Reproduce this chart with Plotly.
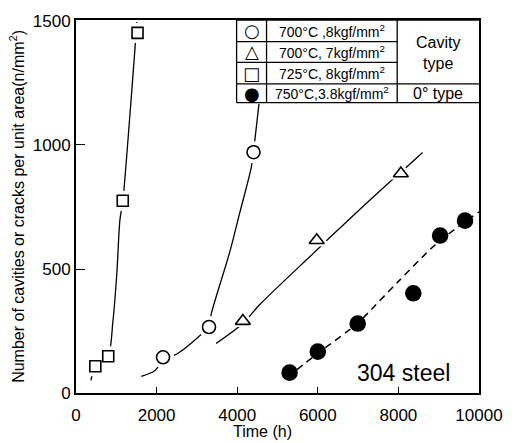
import plotly.graph_objects as go

# ---- data ----
sq_t = [480, 800, 1160, 1527]          # 725C, 8 kgf/mm2
sq_n = [108, 148, 775, 1452]
oc_t = [2160, 3300, 4405]              # 700C, 8 kgf/mm2
oc_n = [144, 266, 971]
tr_t = [4141, 5973, 8061]              # 700C, 7 kgf/mm2
tr_n = [290, 616, 885]
fc_t = [5300, 6000, 6990, 8370, 9035, 9653]   # 750C, 3.8 kgf/mm2
fc_n = [82, 167, 280, 402, 635, 695]

# fitted (hand-drawn) curves
sq_fit_t = [371, 470, 792, 916, 1015, 1089, 1163, 1337, 1485, 1510]
sq_fit_n = [51, 103, 146, 289, 487, 697, 776, 1120, 1436, 1496]
oc_fit_t = [1620, 1955, 2160, 2530, 3030, 3300, 3360, 3811, 4059, 4348, 4405, 4540]
oc_fit_n = [67, 90, 130, 160, 225, 268, 322, 566, 724, 909, 975, 1166]
tr_fit_t = [3480, 4140, 4550, 5900, 6370, 7730, 8060, 8600]
tr_fit_n = [200, 280, 355, 565, 638, 843, 890, 970]
fc_fit_t = [5250, 6000, 7000, 7200, 8000, 8930, 9650, 10000]
fc_fit_n = [64, 160, 282, 315, 450, 600, 690, 730]

x_ticks = [0, 2000, 4000, 6000, 8000, 10000]
y_ticks = [0, 500, 1000, 1500]

FONT = "Liberation Sans"
BLK = "black"

fig = go.Figure()

def curve(x, y, dash="solid", width=1.3):
    fig.add_trace(go.Scatter(x=x, y=y, mode="lines", line=dict(color=BLK, width=width, dash=dash, shape="spline", smoothing=0.8),
                             showlegend=False, hoverinfo="skip"))

curve(sq_fit_t, sq_fit_n)
curve(oc_fit_t, oc_fit_n)
curve(tr_fit_t, tr_fit_n)
curve(fc_fit_t, fc_fit_n, dash="7px,5px", width=1.5)

def halo(x, y, sym, size):
    fig.add_trace(go.Scatter(x=x, y=y, mode="markers", marker=dict(symbol=sym, size=size, color="white", line=dict(width=0)),
                             showlegend=False, hoverinfo="skip"))

halo(sq_t, sq_n, "square", 20)
halo(oc_t, oc_n, "circle", 22)
halo(tr_t, tr_n, "triangle-up", 24)

def pts(x, y, sym, size, fill="white"):
    fig.add_trace(go.Scatter(x=x, y=y, mode="markers", marker=dict(symbol=sym, size=size, color=fill, line=dict(color=BLK, width=1.6)),
                             showlegend=False, hoverinfo="skip"))

pts(sq_t, sq_n, "square", 11)
pts(oc_t, oc_n, "circle", 13)
pts(tr_t, tr_n, "triangle-up", 13)
pts(fc_t, fc_n, "circle", 15, fill=BLK)

# ---- legend table (paper coordinates) ----
X0, X1, X2, X3 = 0.3985, 0.4728, 0.797, 1.0
Y0, Y1, Y2, Y3, Y4 = 1.0, 0.942, 0.8865, 0.8285, 0.7784
lines = [
    (X0, Y0, X3, Y0), (X0, Y1, X2, Y1), (X0, Y2, X2, Y2), (X0, Y3, X3, Y3), (X0, Y4, X3, Y4),
    (X0, Y0, X0, Y4), (X1, Y0, X1, Y4), (X2, Y0, X2, Y4),
]
shapes = [dict(type="line", xref="paper", yref="paper", x0=a, y0=b, x1=c, y1=d,
               line=dict(color=BLK, width=1.3)) for a, b, c, d in lines]

row_y = [0.971, 0.9143, 0.8575, 0.8034]
syms = ["○", "△", "□", "●"]
labels = ["700°C ,8kgf/mm<sup>2</sup>", "700°C, 7kgf/mm<sup>2</sup>", "725°C, 8kgf/mm<sup>2</sup>", "750°C,3.8kgf/mm<sup>2</sup>"]
ann = []
for yy, s, lab in zip(row_y, syms, labels):
    ann.append(dict(x=(X0 + X1) / 2, y=yy, xref="paper", yref="paper", text=s, showarrow=False,
                    font=dict(family="DejaVu Sans", size=18, color=BLK), xanchor="center", yanchor="middle"))
    ann.append(dict(x=(X1 + X2) / 2, y=yy, xref="paper", yref="paper", text=lab, showarrow=False,
                    font=dict(family=FONT, size=14, color=BLK), xanchor="center", yanchor="middle"))
ann.append(dict(x=(X2 + X3) / 2, y=0.912, xref="paper", yref="paper", text="Cavity<br>type", showarrow=False,
                font=dict(family=FONT, size=16, color=BLK), xanchor="center", yanchor="middle"))
ann.append(dict(x=(X2 + X3) / 2, y=row_y[3], xref="paper", yref="paper", text="0° type", showarrow=False,
                font=dict(family=FONT, size=16, color=BLK), xanchor="center", yanchor="middle"))
ann.append(dict(x=0.812, y=0.053, xref="paper", yref="paper", text="304 steel", showarrow=False,
                font=dict(family=FONT, size=23, color=BLK), xanchor="center", yanchor="middle"))
ann.append(dict(x=-0.148, y=0.5, xref="paper", yref="paper", textangle=-90,
                text="Number of cavities or cracks per unit area(n/mm<sup>2</sup>)", showarrow=False,
                font=dict(family=FONT, size=16, color=BLK), xanchor="center", yanchor="middle"))
ann.append(dict(x=0.463, y=-0.103, xref="paper", yref="paper", text="Time (h)", showarrow=False,
                font=dict(family=FONT, size=16, color=BLK), xanchor="center", yanchor="middle"))

fig.update_layout(
    width=515, height=443,
    margin=dict(l=76, r=35, t=14, b=50),
    paper_bgcolor="white", plot_bgcolor="white",
    shapes=shapes, annotations=ann,
    font=dict(family=FONT, size=14, color=BLK),
    showlegend=False,
)
fig.update_xaxes(range=[0, 10000], tickvals=x_ticks, ticktext=[str(v) for v in x_ticks],
                 ticks="inside", ticklen=6, tickwidth=1.3, tickcolor=BLK, ticklabelstandoff=6,
                 showline=True, linecolor=BLK, linewidth=1.5, mirror=True, showgrid=False, zeroline=False,
                 tickfont=dict(family=FONT, size=17, color=BLK))
fig.update_yaxes(range=[0, 1504], tickvals=y_ticks, ticktext=[str(v) for v in y_ticks],
                 ticks="inside", ticklen=9, tickwidth=1.3, tickcolor=BLK,
                 showline=True, linecolor=BLK, linewidth=1.8, mirror=True, showgrid=False, zeroline=False,
                 tickfont=dict(family=FONT, size=17, color=BLK))

fig.write_html("out.html", config={"displayModeBar": False},
               post_script="document.body.style.margin='0px';")
